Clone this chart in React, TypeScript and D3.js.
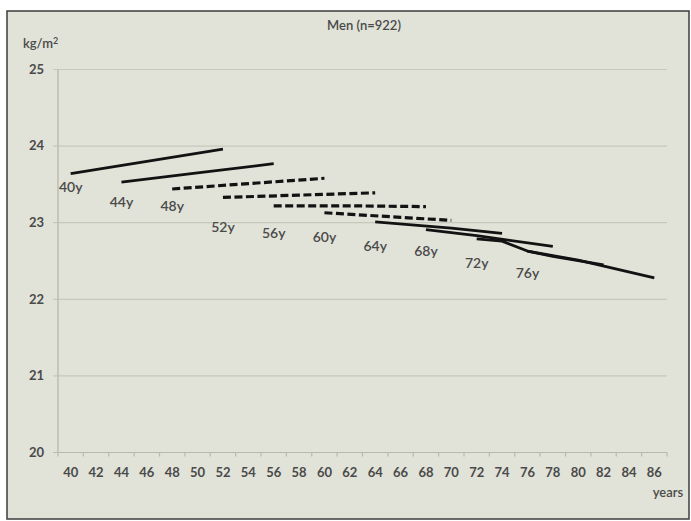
import React, { useEffect, useRef } from 'react';
import { select, scaleBand, scaleLinear, line } from 'd3';

// x categories (age in years) and y ticks (BMI)
const xTickLabels = ['40', '42', '44', '46', '48', '50', '52', '54', '56', '58', '60', '62',
  '64', '66', '68', '70', '72', '74', '76', '78', '80', '82', '84', '86'];
const yTicks = [20, 21, 22, 23, 24, 25];

// one series per baseline age cohort
const cohortLabels = ['40y', '44y', '48y', '52y', '56y', '60y', '64y', '68y', '72y', '76y'];
const cohortAges = [
  [40, 46, 52],
  [44, 50, 56],
  [48, 54, 60],
  [52, 58, 64],
  [56, 62, 68],
  [60, 66, 70],
  [64, 70, 74],
  [68, 72, 78],
  [72, 74, 76, 78, 82],
  [76, 78, 80, 86],
];
const cohortBmi = [
  [23.64, 23.80, 23.96],
  [23.53, 23.65, 23.77],
  [23.44, 23.51, 23.58],
  [23.33, 23.36, 23.39],
  [23.22, 23.22, 23.21],
  [23.13, 23.07, 23.03],
  [23.01, 22.93, 22.86],
  [22.91, 22.83, 22.69],
  [22.79, 22.76, 22.63, 22.56, 22.45],
  [22.63, 22.57, 22.51, 22.28],
];
const dashedCohorts = ['48y', '52y', '56y', '60y'];
// where each cohort label sits on the value axis
const labelBmi = [23.45, 23.25, 23.2, 22.93, 22.85, 22.79, 22.68, 22.61, 22.46, 22.32];

const W = 691;
const H = 521;
const FONT = 'Lato, "Open Sans", sans-serif';
const TEXT = '#4a4a4a';

const App = () => {
  const svgRef = useRef<SVGSVGElement>(null);

  useEffect(() => {
    document.body.style.margin = '0';
    const svg = select(svgRef.current);
    svg.selectAll('*').remove();

    const xScale = scaleBand<string>().domain(xTickLabels).range([58, 667]);
    const yScale = scaleLinear().domain([20, 25]).range([452.5, 69.5]);
    const xPos = (age: number) => (xScale(String(age)) as number) + xScale.bandwidth() / 2;

    // frame
    svg.append('rect')
      .attr('x', 7).attr('y', 11).attr('width', 682).attr('height', 508)
      .attr('fill', '#e1e2d8').attr('stroke', '#3c3c3c').attr('stroke-width', 1.5);

    // gridlines + y ticks
    svg.selectAll('.grid')
      .data(yTicks)
      .join('line')
      .attr('x1', 53).attr('x2', 667)
      .attr('y1', d => yScale(d)).attr('y2', d => yScale(d))
      .attr('stroke', d => (d === 20 ? '#b9baae' : '#c7c8bc'))
      .attr('stroke-width', 1.2);

    svg.selectAll('.ylab')
      .data(yTicks)
      .join('text')
      .attr('x', 44).attr('y', d => yScale(d) + 1)
      .attr('text-anchor', 'end').attr('dominant-baseline', 'middle')
      .attr('font-family', FONT).attr('font-size', 13).attr('font-weight', 700)
      .attr('fill', TEXT)
      .text(d => d);

    // y axis line
    svg.append('line')
      .attr('x1', 58).attr('x2', 58).attr('y1', yScale(25)).attr('y2', yScale(20))
      .attr('stroke', '#bdbeb2').attr('stroke-width', 1.5);

    // x ticks at band boundaries
    const bounds = xTickLabels.map(c => xScale(c) as number).concat([xScale.range()[1]]);
    svg.selectAll('.xtick')
      .data(bounds)
      .join('line')
      .attr('x1', d => d).attr('x2', d => d)
      .attr('y1', yScale(20)).attr('y2', yScale(20) + 4)
      .attr('stroke', '#b9baae').attr('stroke-width', 1.2);

    svg.selectAll('.xlab')
      .data(xTickLabels)
      .join('text')
      .attr('x', d => (xScale(d) as number) + xScale.bandwidth() / 2)
      .attr('y', 477)
      .attr('text-anchor', 'middle')
      .attr('font-family', FONT).attr('font-size', 13).attr('font-weight', 700)
      .attr('fill', TEXT)
      .text(d => d);

    // series
    cohortLabels.forEach((label, i) => {
      const pts = cohortAges[i].map((a, j) => [xPos(a), yScale(cohortBmi[i][j])] as [number, number]);
      const dashed = dashedCohorts.includes(label);
      svg.append('path')
        .attr('d', line()(pts))
        .attr('fill', 'none')
        .attr('stroke', '#121212')
        .attr('stroke-width', dashed ? 3.2 : 2.8)
        .attr('stroke-dasharray', dashed ? '8,3.5' : null)
        .attr('stroke-linejoin', 'round');

      svg.append('text')
        .attr('x', xPos(cohortAges[i][0]))
        .attr('y', yScale(labelBmi[i]))
        .attr('text-anchor', 'middle').attr('dominant-baseline', 'middle')
        .attr('font-family', FONT).attr('font-size', 14).attr('font-weight', 600)
        .attr('fill', TEXT)
        .text(label);
    });

    // titles
    svg.append('text')
      .attr('x', 364).attr('y', 30)
      .attr('text-anchor', 'middle')
      .attr('font-family', FONT).attr('font-size', 13).attr('font-weight', 600)
      .attr('fill', TEXT)
      .text('Men (n=922)');

    const unit = svg.append('text')
      .attr('x', 23).attr('y', 48)
      .attr('font-family', FONT).attr('font-size', 13).attr('font-weight', 600)
      .attr('fill', TEXT);
    unit.append('tspan').text('kg/m');
    unit.append('tspan').attr('dy', -4).attr('font-size', 9).text('2');

    svg.append('text')
      .attr('x', 668).attr('y', 497)
      .attr('text-anchor', 'middle')
      .attr('font-family', FONT).attr('font-size', 13).attr('font-weight', 600)
      .attr('fill', TEXT)
      .text('years');
  }, []);

  return (
    <svg ref={svgRef} width={W} height={H} style={{ display: 'block', background: '#fff' }} />
  );
};

export default App;
